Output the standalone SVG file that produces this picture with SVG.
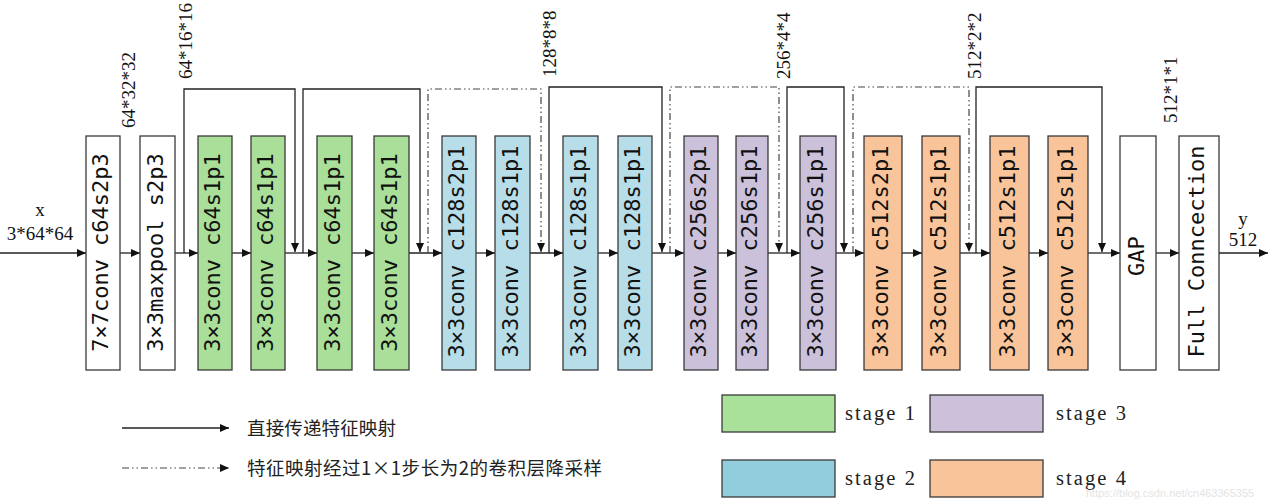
<svg xmlns="http://www.w3.org/2000/svg" width="1269" height="502" viewBox="0 0 1269 502">
<style>
.box{stroke:#3a3a3a;stroke-width:1.3}
.w{fill:#ffffff}.g{fill:#a9df98}.b{fill:#b7dde8}.p{fill:#ccc1da}.o{fill:#f9c49a}
.lbl{font-family:"DejaVu Sans Mono",monospace;font-size:22px;fill:#111;text-anchor:middle}
.dim{font-family:"Liberation Serif",serif;font-size:19px;fill:#111}
.ln{fill:none;stroke:#222;stroke-width:1.3}
.dd{fill:none;stroke:#444;stroke-width:1.2;stroke-dasharray:7 3 1.5 3 1.5 3}
.cn{font-family:"Noto Sans CJK SC",sans-serif;font-size:18.5px;fill:#222}
.st{font-family:"Liberation Serif",serif;font-size:20.5px;fill:#222}
</style>
<defs>
<marker id="ah" markerUnits="userSpaceOnUse" markerWidth="10" markerHeight="10" refX="9" refY="4" orient="auto">
<path d="M0,0 L9,4 L0,8 Z" fill="#111"/>
</marker>
</defs>
<rect width="1269" height="502" fill="#ffffff"/>

<g id="connectors">
<line class="ln" x1="0" y1="253" x2="86" y2="253" marker-end="url(#ah)"/>
<line class="ln" x1="120" y1="253" x2="140" y2="253" marker-end="url(#ah)"/>
<line class="ln" x1="175" y1="253" x2="198" y2="253" marker-end="url(#ah)"/>
<line class="ln" x1="232" y1="253" x2="251" y2="253" marker-end="url(#ah)"/>
<line class="ln" x1="285" y1="253" x2="317" y2="253" marker-end="url(#ah)"/>
<line class="ln" x1="352" y1="253" x2="374" y2="253" marker-end="url(#ah)"/>
<line class="ln" x1="409" y1="253" x2="442" y2="253" marker-end="url(#ah)"/>
<line class="ln" x1="476" y1="253" x2="495" y2="253" marker-end="url(#ah)"/>
<line class="ln" x1="530" y1="253" x2="563" y2="253" marker-end="url(#ah)"/>
<line class="ln" x1="598" y1="253" x2="618" y2="253" marker-end="url(#ah)"/>
<line class="ln" x1="652" y1="253" x2="684" y2="253" marker-end="url(#ah)"/>
<line class="ln" x1="718" y1="253" x2="736" y2="253" marker-end="url(#ah)"/>
<line class="ln" x1="768" y1="253" x2="800" y2="253" marker-end="url(#ah)"/>
<line class="ln" x1="836" y1="253" x2="864" y2="253" marker-end="url(#ah)"/>
<line class="ln" x1="902" y1="253" x2="922" y2="253" marker-end="url(#ah)"/>
<line class="ln" x1="960" y1="253" x2="990" y2="253" marker-end="url(#ah)"/>
<line class="ln" x1="1029" y1="253" x2="1048" y2="253" marker-end="url(#ah)"/>
<line class="ln" x1="1088" y1="253" x2="1120" y2="253" marker-end="url(#ah)"/>
<line class="ln" x1="1156" y1="253" x2="1179" y2="253" marker-end="url(#ah)"/>
<line class="ln" x1="1219" y1="253" x2="1268" y2="253" marker-end="url(#ah)"/>
<path class="ln" d="M184,253 V89 H295 V252" marker-end="url(#ah)"/>
<path class="ln" d="M303,253 V89 H420 V252" marker-end="url(#ah)"/>
<path class="dd" d="M428,253 V89 H541 V252" marker-end="url(#ah)"/>
<path class="ln" d="M549,253 V87 H662 V252" marker-end="url(#ah)"/>
<path class="dd" d="M670,253 V87 H779 V252" marker-end="url(#ah)"/>
<path class="ln" d="M787,253 V87 H844 V252" marker-end="url(#ah)"/>
<path class="dd" d="M853,253 V87 H969 V252" marker-end="url(#ah)"/>
<path class="ln" d="M976,253 V87 H1102 V252" marker-end="url(#ah)"/>
</g>

<g id="n1"><rect class="box w" x="86" y="136" width="34" height="234"/><text class="lbl" transform="rotate(-90)" x="-252.5" y="108">7×7conv c64s2p3</text></g>
<g id="n2"><rect class="box w" x="140" y="136" width="35" height="234"/><text class="lbl" transform="rotate(-90)" x="-252.5" y="162.5">3×3maxpool s2p3</text></g>
<g id="g1"><rect class="box g" x="198" y="136" width="34" height="234"/><text class="lbl" transform="rotate(-90)" x="-252.5" y="220">3×3conv c64s1p1</text></g>
<g id="g2"><rect class="box g" x="251" y="136" width="34" height="234"/><text class="lbl" transform="rotate(-90)" x="-252.5" y="273">3×3conv c64s1p1</text></g>
<g id="g3"><rect class="box g" x="317" y="136" width="35" height="234"/><text class="lbl" transform="rotate(-90)" x="-252.5" y="339.5">3×3conv c64s1p1</text></g>
<g id="g4"><rect class="box g" x="374" y="136" width="35" height="234"/><text class="lbl" transform="rotate(-90)" x="-252.5" y="396.5">3×3conv c64s1p1</text></g>
<g id="b1"><rect class="box b" x="442" y="136" width="34" height="234"/><text class="lbl" transform="rotate(-90)" x="-251.5" y="464">3×3conv c128s2p1</text></g>
<g id="b2"><rect class="box b" x="495" y="136" width="35" height="234"/><text class="lbl" transform="rotate(-90)" x="-251.5" y="517.5">3×3conv c128s1p1</text></g>
<g id="b3"><rect class="box b" x="563" y="136" width="35" height="234"/><text class="lbl" transform="rotate(-90)" x="-251.5" y="585.5">3×3conv c128s1p1</text></g>
<g id="b4"><rect class="box b" x="618" y="136" width="34" height="234"/><text class="lbl" transform="rotate(-90)" x="-251.5" y="640">3×3conv c128s1p1</text></g>
<g id="p1"><rect class="box p" x="684" y="136" width="34" height="234"/><text class="lbl" transform="rotate(-90)" x="-251.5" y="706">3×3conv c256s2p1</text></g>
<g id="p2"><rect class="box p" x="736" y="136" width="32" height="234"/><text class="lbl" transform="rotate(-90)" x="-251.5" y="757">3×3conv c256s1p1</text></g>
<g id="p3"><rect class="box p" x="800" y="136" width="36" height="234"/><text class="lbl" transform="rotate(-90)" x="-251.5" y="823">3×3conv c256s1p1</text></g>
<g id="o1"><rect class="box o" x="864" y="136" width="38" height="234"/><text class="lbl" transform="rotate(-90)" x="-251.5" y="888">3×3conv c512s2p1</text></g>
<g id="o2"><rect class="box o" x="922" y="136" width="38" height="234"/><text class="lbl" transform="rotate(-90)" x="-251.5" y="946">3×3conv c512s1p1</text></g>
<g id="o3"><rect class="box o" x="990" y="136" width="39" height="234"/><text class="lbl" transform="rotate(-90)" x="-251.5" y="1014.5">3×3conv c512s1p1</text></g>
<g id="o4"><rect class="box o" x="1048" y="136" width="40" height="234"/><text class="lbl" transform="rotate(-90)" x="-251.5" y="1073">3×3conv c512s1p1</text></g>
<g id="gap"><rect class="box w" x="1120" y="136" width="36" height="234"/><text class="lbl" transform="rotate(-90)" x="-256" y="1144">GAP</text></g>
<g id="fc"><rect class="box w" x="1179" y="136" width="40" height="234"/><text class="lbl" transform="rotate(-90)" x="-251.5" y="1204">Full Conncection</text></g>

<g id="dims">
<text class="dim" x="40" y="216" text-anchor="middle">x</text>
<text class="dim" x="40" y="240" text-anchor="middle">3*64*64</text>
<text class="dim" transform="rotate(-90)" x="-128" y="135">64*32*32</text>
<text class="dim" transform="rotate(-90)" x="-79" y="192">64*16*16</text>
<text class="dim" transform="rotate(-90)" x="-77" y="556">128*8*8</text>
<text class="dim" transform="rotate(-90)" x="-79" y="790">256*4*4</text>
<text class="dim" transform="rotate(-90)" x="-79" y="981">512*2*2</text>
<text class="dim" transform="rotate(-90)" x="-123" y="1177">512*1*1</text>
<text class="dim" x="1243" y="225" text-anchor="middle">y</text>
<text class="dim" x="1243" y="246" text-anchor="middle">512</text>
</g>

<g id="legend">
<line class="ln" x1="122" y1="428" x2="229" y2="428" marker-end="url(#ah)"/>
<line class="dd" x1="122" y1="468" x2="229" y2="468" marker-end="url(#ah)"/>
<text class="cn" x="247" y="434.5" textLength="149">直接传递特征映射</text>
<text class="cn" x="247" y="474.5" textLength="355">特征映射经过1×1步长为2的卷积层降采样</text>
<rect class="box" fill="#a9e09a" x="722" y="395" width="113" height="37"/>
<rect class="box" fill="#92cddc" x="722" y="460" width="113" height="37"/>
<rect class="box" fill="#ccc0da" x="930" y="395" width="113" height="37"/>
<rect class="box" fill="#f9c499" x="930" y="460" width="113" height="37"/>
<text class="st" x="845" y="419.5" textLength="70">stage 1</text>
<text class="st" x="845" y="484.5" textLength="70">stage 2</text>
<text class="st" x="1056" y="419.5" textLength="70">stage 3</text>
<text class="st" x="1056" y="484.5" textLength="70">stage 4</text>
<text x="1086" y="497" font-family="Liberation Sans, sans-serif" font-size="11" fill="#e4e4e4">https://blog.csdn.net/cn463365355</text>
</g>
</svg>
